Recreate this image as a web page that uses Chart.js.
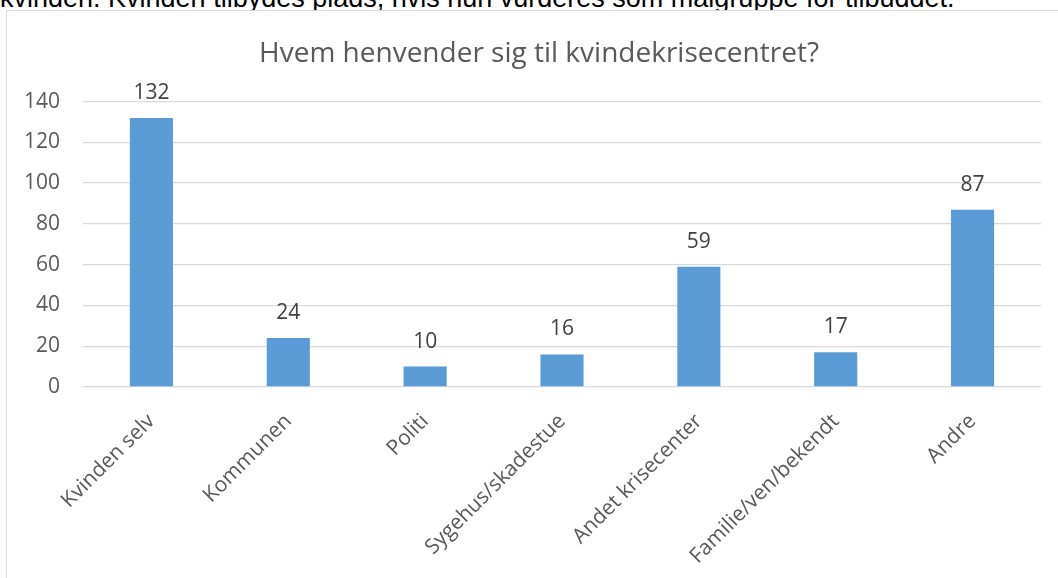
<!DOCTYPE html>
<html>
<head>
<meta charset="utf-8">
<script src="https://cdn.jsdelivr.net/npm/chart.js@4.4.1/dist/chart.umd.min.js"></script>
<style>
  html, body { margin: 0; padding: 0; background: #fff; overflow: hidden; }
  body { width: 1058px; height: 578px; position: relative; }
  .para {
    position: absolute; left: 0; top: -17px; white-space: nowrap; line-height: 30px;
    font-family: "Liberation Sans", Arial, sans-serif; font-size: 27px; color: #000;
  }
  .frame {
    position: absolute; left: 6px; top: 10px; width: 1100px; height: 620px;
    border: 1.5px solid #d9d9d9; box-sizing: border-box; background: #fff;
  }
  .wrap { position: absolute; left: 7px; top: 11px; width: 1064px; height: 567px; }
</style>
</head>
<body>
<div class="para">kvinden. Kvinden tilbydes plads, hvis hun vurderes som målgruppe for tilbuddet.</div>
<div class="frame"></div>
<div class="wrap"><canvas id="chart"></canvas></div>
<script>
// data
const categories = ['Kvinden selv', 'Kommunen', 'Politi', 'Sygehus/skadestue', 'Andet krisecenter', 'Familie/ven/bekendt', 'Andre'];
const counts = [132, 24, 10, 16, 59, 17, 87];
const yTicks = [0, 20, 40, 60, 80, 100, 120, 140];

const TEXT = '#595959';
const FONT = '"Open Sans", "DejaVu Sans", sans-serif';

// value labels above each bar
const barLabels = {
  id: 'barLabels',
  afterDatasetsDraw(chart){
    const ctx = chart.ctx;
    const meta = chart.getDatasetMeta(0);
    ctx.save();
    ctx.font = '21px ' + FONT;
    ctx.fillStyle = '#404040';
    ctx.textAlign = 'center';
    ctx.textBaseline = 'alphabetic';
    meta.data.forEach((bar, i) => {
      ctx.fillText(String(counts[i]), bar.x, bar.y - 19);
    });
    ctx.restore();
  }
};

new Chart(document.getElementById('chart'), {
  type: 'bar',
  data: {
    labels: categories,
    datasets: [{
      data: counts,
      backgroundColor: '#5b9bd5',
      borderWidth: 0,
      barPercentage: 1,
      categoryPercentage: 0.315
    }]
  },
  options: {
    responsive: true,
    maintainAspectRatio: false,
    animation: false,
    layout: { padding: 0 },
    plugins: {
      legend: { display: false },
      tooltip: { enabled: false },
      title: {
        display: true,
        text: 'Hvem henvender sig til kvindekrisecentret?',
        color: TEXT,
        font: { family: FONT, size: 28, weight: 'normal' },
        padding: { top: 26, bottom: 31 }
      }
    },
    scales: {
      x: {
        grid: { display: false, drawTicks: false },
        border: { display: false },
        ticks: {
          color: TEXT,
          font: { family: FONT, size: 21 },
          autoSkip: false,
          minRotation: 45,
          maxRotation: 45,
          padding: 22
        },
        afterFit(s){ s.height = 191; }
      },
      y: {
        min: 0,
        max: 140,
        afterBuildTicks(s){ s.ticks = yTicks.map(v => ({ value: v })); },
        grid: { color: '#d9d9d9', lineWidth: 1.3, drawTicks: false },
        border: { display: false },
        ticks: {
          color: TEXT,
          font: { family: FONT, size: 21 },
          padding: 23
        },
        afterFit(s){ s.width = 76; }
      },
      // empty right gutter so the plot ends where the reference's does
      gutter: {
        type: 'linear',
        position: 'right',
        grid: { display: false, drawTicks: false },
        border: { display: false },
        ticks: { display: false },
        afterFit(s){ s.width = 30; }
      }
    }
  },
  plugins: [barLabels]
});
</script>
</body>
</html>
